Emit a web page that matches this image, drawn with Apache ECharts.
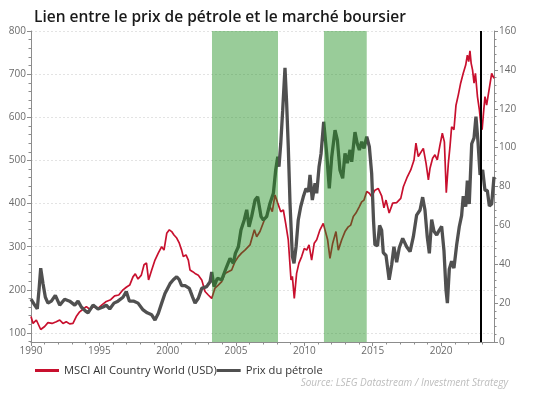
<!DOCTYPE html>
<html>
<head>
<meta charset="utf-8">
<script src="https://cdn.jsdelivr.net/npm/echarts@6/dist/echarts.min.js"></script>
<style>
html,body{margin:0;padding:0;background:#fff;}
#chart{width:542px;height:396px;}
</style>
</head>
<body>
<div id="chart"></div>
<script>
// MSCI All Country World (USD) - axe de gauche
var msciYear = [1990.00,1990.15,1990.39,1990.71,1991.00,1991.24,1991.54,1991.85,1992.10,1992.34,1992.58,1992.83,1993.07,1993.31,1993.56,1993.80,1994.05,1994.29,1994.61,1994.90,1995.19,1995.51,1995.83,1996.12,1996.42,1996.73,1996.97,1997.22,1997.46,1997.63,1997.83,1998.07,1998.27,1998.45,1998.60,1998.83,1999.07,1999.31,1999.56,1999.73,1999.93,2000.12,2000.29,2000.46,2000.66,2000.85,2001.02,2001.14,2001.34,2001.51,2001.63,2001.83,2002.00,2002.24,2002.49,2002.73,2002.97,2003.22,2003.46,2003.70,2003.95,2004.19,2004.43,2004.68,2004.92,2005.17,2005.40,2005.65,2006.02,2006.34,2006.51,2006.75,2007.07,2007.31,2007.48,2007.65,2007.85,2008.05,2008.27,2008.46,2008.63,2008.82,2009.02,2009.12,2009.26,2009.43,2009.60,2009.80,2009.99,2010.17,2010.34,2010.53,2010.72,2010.90,2011.14,2011.38,2011.50,2011.70,2011.87,2012.07,2012.31,2012.48,2012.73,2012.97,2013.21,2013.39,2013.58,2013.77,2014.02,2014.19,2014.36,2014.56,2014.75,2014.92,2015.16,2015.40,2015.65,2015.82,2015.97,2016.20,2016.46,2016.75,2017.05,2017.24,2017.53,2017.78,2018.02,2018.16,2018.33,2018.46,2018.70,2018.90,2019.07,2019.19,2019.38,2019.55,2019.72,2019.92,2020.09,2020.24,2020.38,2020.53,2020.65,2020.77,2020.94,2021.09,2021.26,2021.43,2021.62,2021.80,2021.92,2022.02,2022.11,2022.20,2022.30,2022.41,2022.51,2022.66,2022.80,2022.90,2023.00,2023.10,2023.21,2023.33,2023.45,2023.58,2023.70,2023.77,2023.87];
var msciValue = [138,122,130,108,115,124,122,126,130,122,126,121,122,138,149,155,161,155,161,157,165,173,177,186,188,200,206,211,230,237,225,234,258,262,223,246,269,285,300,292,331,339,335,327,320,308,292,277,281,269,246,242,238,234,223,196,188,180,204,211,219,238,242,246,265,277,285,292,304,339,323,335,362,377,393,381,420,401,381,385,354,316,223,231,180,238,262,277,296,292,304,269,308,316,339,354,358,316,273,308,335,292,316,335,346,350,370,378,393,404,408,428,424,416,431,435,418,390,408,378,401,402,412,439,462,478,501,540,509,505,528,493,455,482,505,513,501,536,563,543,425,493,532,578,571,628,652,679,702,721,744,729,754,725,710,679,702,648,617,586,571,609,648,628,652,656,702,706,690];

// Prix du pétrole - axe de droite
var oilYear = [1990.00,1990.27,1990.46,1990.60,1990.71,1990.88,1991.05,1991.24,1991.49,1991.78,1992.10,1992.46,1992.83,1993.20,1993.44,1993.68,1993.97,1994.17,1994.54,1994.90,1995.27,1995.50,1995.76,1996.07,1996.36,1996.73,1996.97,1997.20,1997.53,1997.83,1998.20,1998.50,1998.83,1999.07,1999.31,1999.56,1999.80,2000.17,2000.41,2000.66,2000.85,2001.02,2001.27,2001.58,2001.83,2002.00,2002.24,2002.49,2002.85,2003.10,2003.22,2003.39,2003.63,2003.95,2004.31,2004.56,2004.80,2004.95,2005.17,2005.36,2005.60,2005.78,2005.95,2006.14,2006.39,2006.58,2006.83,2007.00,2007.24,2007.48,2007.73,2007.90,2008.05,2008.14,2008.27,2008.41,2008.58,2008.70,2008.82,2008.95,2009.12,2009.24,2009.39,2009.55,2009.73,2009.92,2010.12,2010.29,2010.41,2010.58,2010.78,2010.90,2011.07,2011.22,2011.41,2011.63,2011.82,2012.00,2012.24,2012.41,2012.60,2012.80,2012.97,2013.14,2013.34,2013.46,2013.70,2013.87,2014.02,2014.19,2014.36,2014.56,2014.75,2014.92,2015.06,2015.16,2015.35,2015.50,2015.65,2015.77,2015.97,2016.20,2016.39,2016.55,2016.75,2016.94,2017.19,2017.48,2017.73,2017.97,2018.21,2018.46,2018.65,2018.82,2018.99,2019.14,2019.31,2019.48,2019.68,2019.87,2020.04,2020.21,2020.36,2020.46,2020.60,2020.77,2020.94,2021.14,2021.33,2021.50,2021.62,2021.80,2021.92,2022.06,2022.24,2022.41,2022.55,2022.70,2022.85,2023.04,2023.21,2023.38,2023.53,2023.70,2023.87];
var oilValue = [22,19,17,28,38,30,23,20,21,24,19,22,21,19,21,18,16,15,19,17,18,19,17,20,21,23,26,21,21,20,16.5,15,14,11.3,14.7,20,25,30,32,33.6,32,29,29,27.6,23,20,22.5,27.6,28.5,31,36,28.5,32.8,32,38.7,43,40.5,45.6,49,57.6,62.8,68,59.3,64.5,73,74.7,64.5,62.8,64.5,71.3,76.5,88.5,95.3,90.2,102,119,141,123,100.5,71,44,40.5,49,62.8,69.6,74.7,79,77.3,86,73,81.6,76.5,90,97,113.3,97,79,95.3,109,104,88.5,84.2,97,92,98.8,92.7,108,102,98.8,103,99.6,105.6,100.5,86.8,62,50,49.5,60,57.6,46,44.5,32,40,49,41,48.5,53.3,49,46.5,54.2,65.3,67.9,74.5,67.9,54,45.6,63,57,55,57.6,59.5,47,26.7,20,37.5,41.5,38,50,59.3,65,75,69.6,83,71,102,105,116,103,86,88.5,78,78,70,71,85];

// zones vertes et trait vertical
var bandStart = [2003.24, 2011.43];
var bandEnd = [2008.07, 2014.56];
var markerYear = 2022.87;

// graduations
var xLabelYears = [1990,1995,2000,2005,2010,2015,2020];
var xMinorYears = [];
for(var yr=1991;yr<=2023;yr++){ xMinorYears.push(yr); }
var leftTicks = [100,200,300,400,500,600,700,800];
var leftMinor = [];
for(var v=80;v<=800;v+=20){ leftMinor.push(v); }

var msciData = [], oilData = [], bands = [];
for(var i=0;i<msciYear.length;i++){ msciData.push([msciYear[i], msciValue[i]]); }
for(var i=0;i<oilYear.length;i++){ oilData.push([oilYear[i], oilValue[i]]); }
for(var i=0;i<bandStart.length;i++){ bands.push([{xAxis:bandStart[i]},{xAxis:bandEnd[i]}]); }

var axisGrey = '#8c8c8c';
var labelGrey = '#6b6b6b';
var font = 'Open Sans';
var plain = function(val){ return String(val); };

var chart = echarts.init(document.getElementById('chart'));
chart.setOption({
	animation:false,
	textStyle:{fontFamily:font},
	title:{
		text:'Lien entre le prix de pétrole et le marché boursier',
		left:29,
		top:5,
		textStyle:{fontSize:15.5,fontWeight:600,color:'#1a1a1a',fontFamily:font}
	},
	grid:{left:31,right:48,top:31,bottom:54},
	legend:{
		left:30,
		top:360,
		itemWidth:24,
		itemHeight:3,
		itemGap:0,
		icon:'rect',
		textStyle:{fontSize:11.2,color:'#333',fontFamily:font},
		data:['MSCI All Country World (USD)','Prix du pétrole']
	},
	graphic:[{
		type:'text',
		right:34,
		top:378,
		style:{
			text:'Source: LSEG Datastream / Investment Strategy',
			fontSize:10,
			fontStyle:'italic',
			fill:'#bdbdbd',
			fontFamily:font
		}
	}],
	xAxis:[{
		type:'value',
		min:1990,
		max:2023.87,
		axisLine:{lineStyle:{color:axisGrey,width:1}},
		axisTick:{length:4,customValues:xLabelYears,lineStyle:{color:axisGrey}},
		axisLabel:{customValues:xLabelYears,formatter:plain,fontSize:10,color:labelGrey,margin:4},
		splitLine:{show:false}
	},{
		type:'value',
		min:1990,
		max:2023.87,
		position:'bottom',
		axisLine:{show:false},
		axisTick:{length:2.5,customValues:xMinorYears,lineStyle:{color:axisGrey}},
		axisLabel:{show:false},
		splitLine:{show:false}
	}],
	yAxis:[{
		type:'value',
		position:'left',
		min:79,
		max:800,
		axisLine:{show:true,lineStyle:{color:axisGrey}},
		axisTick:{show:true,length:4,customValues:leftTicks,lineStyle:{color:axisGrey}},
		axisLabel:{customValues:leftTicks,formatter:plain,fontSize:10,color:labelGrey,margin:5},
		splitLine:{show:true,lineStyle:{color:'#e3e3e3',type:[2,2],width:1}}
	},{
		type:'value',
		position:'left',
		min:79,
		max:800,
		axisLine:{show:false},
		axisTick:{show:true,length:2.5,customValues:leftMinor,lineStyle:{color:axisGrey}},
		axisLabel:{show:false},
		splitLine:{show:false}
	},{
		type:'value',
		position:'right',
		min:0,
		max:160,
		interval:20,
		axisLine:{show:true,lineStyle:{color:axisGrey}},
		axisTick:{show:true,length:4,lineStyle:{color:axisGrey}},
		minorTick:{show:true,splitNumber:5,length:2.5,lineStyle:{color:axisGrey}},
		axisLabel:{fontSize:10,color:labelGrey,margin:5},
		splitLine:{show:false}
	}],
	series:[{
		name:'MSCI All Country World (USD)',
		type:'line',
		xAxisIndex:0,
		yAxisIndex:0,
		data:msciData,
		showSymbol:false,
		lineStyle:{color:'#c8102e',width:1.7},
		itemStyle:{color:'#c8102e'},
		z:2
	},{
		name:'Prix du pétrole',
		type:'line',
		xAxisIndex:0,
		yAxisIndex:2,
		data:oilData,
		showSymbol:false,
		lineStyle:{color:'#505050',width:3.3},
		itemStyle:{color:'#505050'},
		z:3
	},{
		// zones vertes par-dessus les courbes
		name:'zones',
		type:'line',
		xAxisIndex:0,
		yAxisIndex:0,
		data:[],
		z:5,
		silent:true,
		markArea:{
			silent:true,
			z:10,
			itemStyle:{color:'rgba(29,142,29,0.45)'},
			data:bands
		},
		markLine:{
			silent:true,
			z:11,
			symbol:['none','none'],
			label:{show:false},
			lineStyle:{color:'#000',width:2,type:'solid'},
			data:[{xAxis:markerYear}]
		}
	}]
});
</script>
</body>
</html>
